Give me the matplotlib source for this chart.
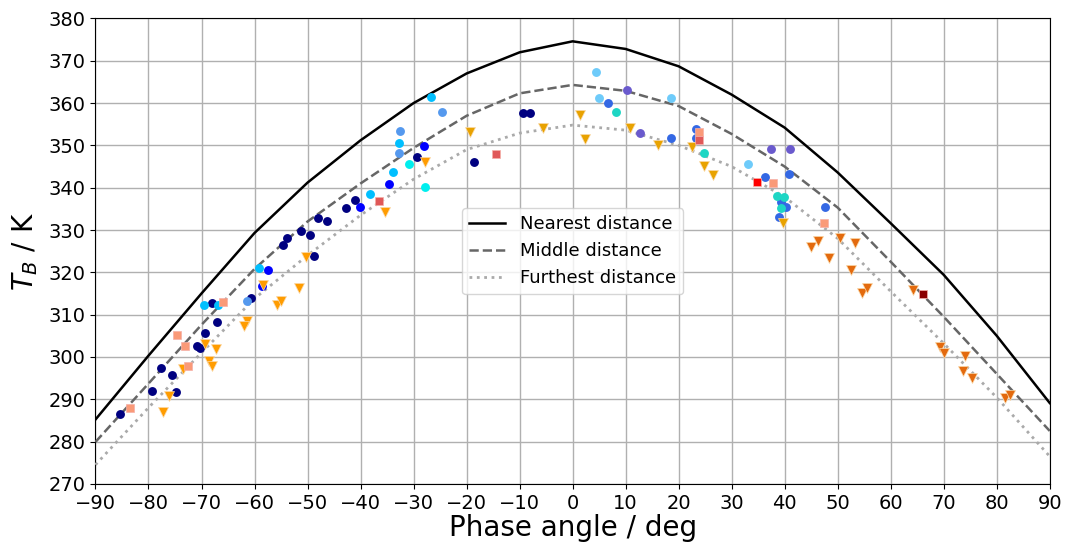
import matplotlib
matplotlib.use("Agg")
import matplotlib.pyplot as plt
import numpy as np

phase_grid = [-90, -80, -70, -60, -50, -40, -30, -20, -10, 0,
              10, 20, 30, 40, 50, 60, 70, 80, 90]
tb_nearest = [285.2, 300.3, 315.0, 329.3, 341.2, 351.2, 360.0, 367.0, 372.0, 374.6,
              372.8, 368.7, 362.0, 354.2, 343.6, 331.6, 319.4, 305.0, 289.1]
tb_middle = [279.9, 293.7, 307.6, 320.8, 332.0, 341.0, 349.4, 357.0, 362.3, 364.3,
             362.9, 359.3, 352.7, 345.0, 335.3, 322.5, 309.5, 296.0, 282.5]
tb_furthest = [274.5, 288.0, 301.0, 313.8, 324.0, 333.5, 342.0, 349.0, 352.9, 354.8,
               353.6, 350.0, 345.0, 337.8, 328.0, 315.5, 303.2, 290.4, 276.5]

# observations (phase, T_B) per group
navy_x = [-85.4, -79.3, -74.8, -77.6, -75.6, -70.8, -70.3, -69.3, -67.0, -68.0, -60.7,
          -54.7, -53.8, -51.2, -49.5, -48.7, -48.0, -46.3, -42.8, -41.0, -29.4, -18.6, -9.4, -8.0]
navy_y = [286.4, 291.9, 291.8, 297.3, 295.7, 302.6, 302.0, 305.6, 308.3, 312.8, 313.9,
          326.4, 328.0, 329.8, 328.9, 323.9, 332.8, 332.1, 335.2, 337.1, 347.2, 346.1, 357.6, 357.6]
blue_x = [-58.5, -57.5, -40.1, -34.6, -28.0]
blue_y = [316.8, 320.5, 335.5, 340.9, 349.9]
dsky_x = [-69.5, -66.8, -59.1, -38.2, -33.8, -32.8, -26.8]
dsky_y = [312.3, 312.3, 320.9, 338.5, 343.7, 350.5, 361.5]
cfl_x = [-61.5, -32.6, -32.7, -24.7]
cfl_y = [313.2, 353.5, 348.1, 357.8]
cyan_x = [-30.9, -27.8]
cyan_y = [345.7, 340.2]
lsky_x = [4.5, 5.0, 18.6, 33.0]
lsky_y = [367.4, 361.1, 361.2, 345.5]
royal_x = [6.6, 18.5, 23.2, 23.2, 36.3, 40.8, 39.3, 40.3, 38.9, 47.6]
royal_y = [360.0, 351.8, 353.8, 351.7, 342.5, 343.3, 336.7, 335.5, 333.1, 335.4]
slate_x = [10.3, 12.8, 37.4, 41.1]
slate_y = [363.0, 352.9, 349.1, 349.1]
turq_x = [8.1, 24.8, 38.6, 39.8, 39.3]
turq_y = [357.9, 348.3, 338.0, 337.7, 335.1]

orange_x = [-77.2, -76.1, -73.5, -69.4, -67.3, -68.6, -68.1, -61.5, -62.0, -58.4,
            -51.6, -55.8, -55.0, -50.2, -35.3, -27.8]
orange_y = [287.0, 290.8, 297.1, 303.0, 301.8, 299.1, 297.8, 308.5, 307.3, 317.0,
            316.2, 312.3, 313.3, 323.7, 334.3, 346.1]
gold_x = [-19.4, -5.5, 1.4, 2.3, 10.8, 16.2, 22.5, 24.8, 26.4, 39.6]
gold_y = [353.2, 354.0, 357.2, 351.5, 354.0, 350.1, 349.6, 345.2, 343.0, 331.7]
dorange_x = [44.9, 46.2, 50.5, 53.2, 48.4, 52.5, 54.5, 55.6, 64.2, 69.3, 70.1,
             74.1, 73.7, 75.4, 81.5, 82.5]
dorange_y = [325.9, 327.5, 328.2, 326.9, 323.5, 320.5, 315.2, 316.2, 315.8, 302.3, 301.0,
             300.3, 296.7, 294.9, 290.2, 291.0]

salmon_x = [-83.4, -72.6, -74.6, -73.2, -65.9, 23.8, 37.8, 47.4]
salmon_y = [288.0, 297.8, 305.2, 302.6, 313.0, 353.2, 341.0, 331.6]
ired_x = [-36.5, -14.5, 23.8]
ired_y = [336.9, 347.9, 351.3]
red_x = [34.7]
red_y = [341.4]
dred_x = [66.1]
dred_y = [314.9]

fig = plt.figure(figsize=(10.68, 5.47), dpi=100)
ax = fig.add_axes([0.0894, 0.1155, 0.8935, 0.8507])

ax.plot(phase_grid, tb_nearest, color='k', lw=1.8, ls='-', label='Nearest distance', zorder=3)
ax.plot(phase_grid, tb_middle, color='#666666', lw=1.8, ls='--', label='Middle distance', zorder=3)
ax.plot(phase_grid, tb_furthest, color='#aaaaaa', lw=2.0, ls=':', label='Furthest distance', zorder=3)

circles = [
    (navy_x, navy_y, '#000080'),
    (blue_x, blue_y, '#0000ff'),
    (dsky_x, dsky_y, '#00bfff'),
    (cfl_x, cfl_y, '#5599ee'),
    (cyan_x, cyan_y, '#00eeee'),
    (lsky_x, lsky_y, '#6ecbfa'),
    (royal_x, royal_y, '#3468e4'),
    (slate_x, slate_y, '#6a5acd'),
    (turq_x, turq_y, '#1ed6c4'),
]
for xs, ys, c in circles:
    ax.plot(xs, ys, 'o', color=c, ms=6.4, mew=0, zorder=4)

for xs, ys, c in [(orange_x, orange_y, '#ff9c00'),
                  (gold_x, gold_y, '#e8a200'),
                  (dorange_x, dorange_y, '#e36a0e')]:
    ax.plot(xs, ys, 'v', color=c, ms=6.6, mew=0.5, mec='#fbd9a8', zorder=5)

for xs, ys, c in [(salmon_x, salmon_y, '#fa9a78'),
                  (ired_x, ired_y, '#e05858'),
                  (red_x, red_y, '#ff0000'),
                  (dred_x, dred_y, '#8b0000')]:
    ax.plot(xs, ys, 's', color=c, ms=5.6, mew=0.5, mec='#f6b0a8', zorder=6)

ax.set_xlim(-90, 90)
ax.set_ylim(270, 380)
ax.set_xticks(np.arange(-90, 91, 10))
ax.set_yticks(np.arange(270, 381, 10))
ax.tick_params(labelsize=14)
ax.grid(True, color='#b0b0b0', lw=1.0, zorder=0)
ax.set_axisbelow(True)
ax.set_xlabel('Phase angle / deg', fontsize=20, labelpad=1)
ax.set_ylabel('$T_B$ / K', fontsize=20, labelpad=6)
ax.legend(loc='center', fontsize=13)

fig.savefig('out.png', dpi=100)
